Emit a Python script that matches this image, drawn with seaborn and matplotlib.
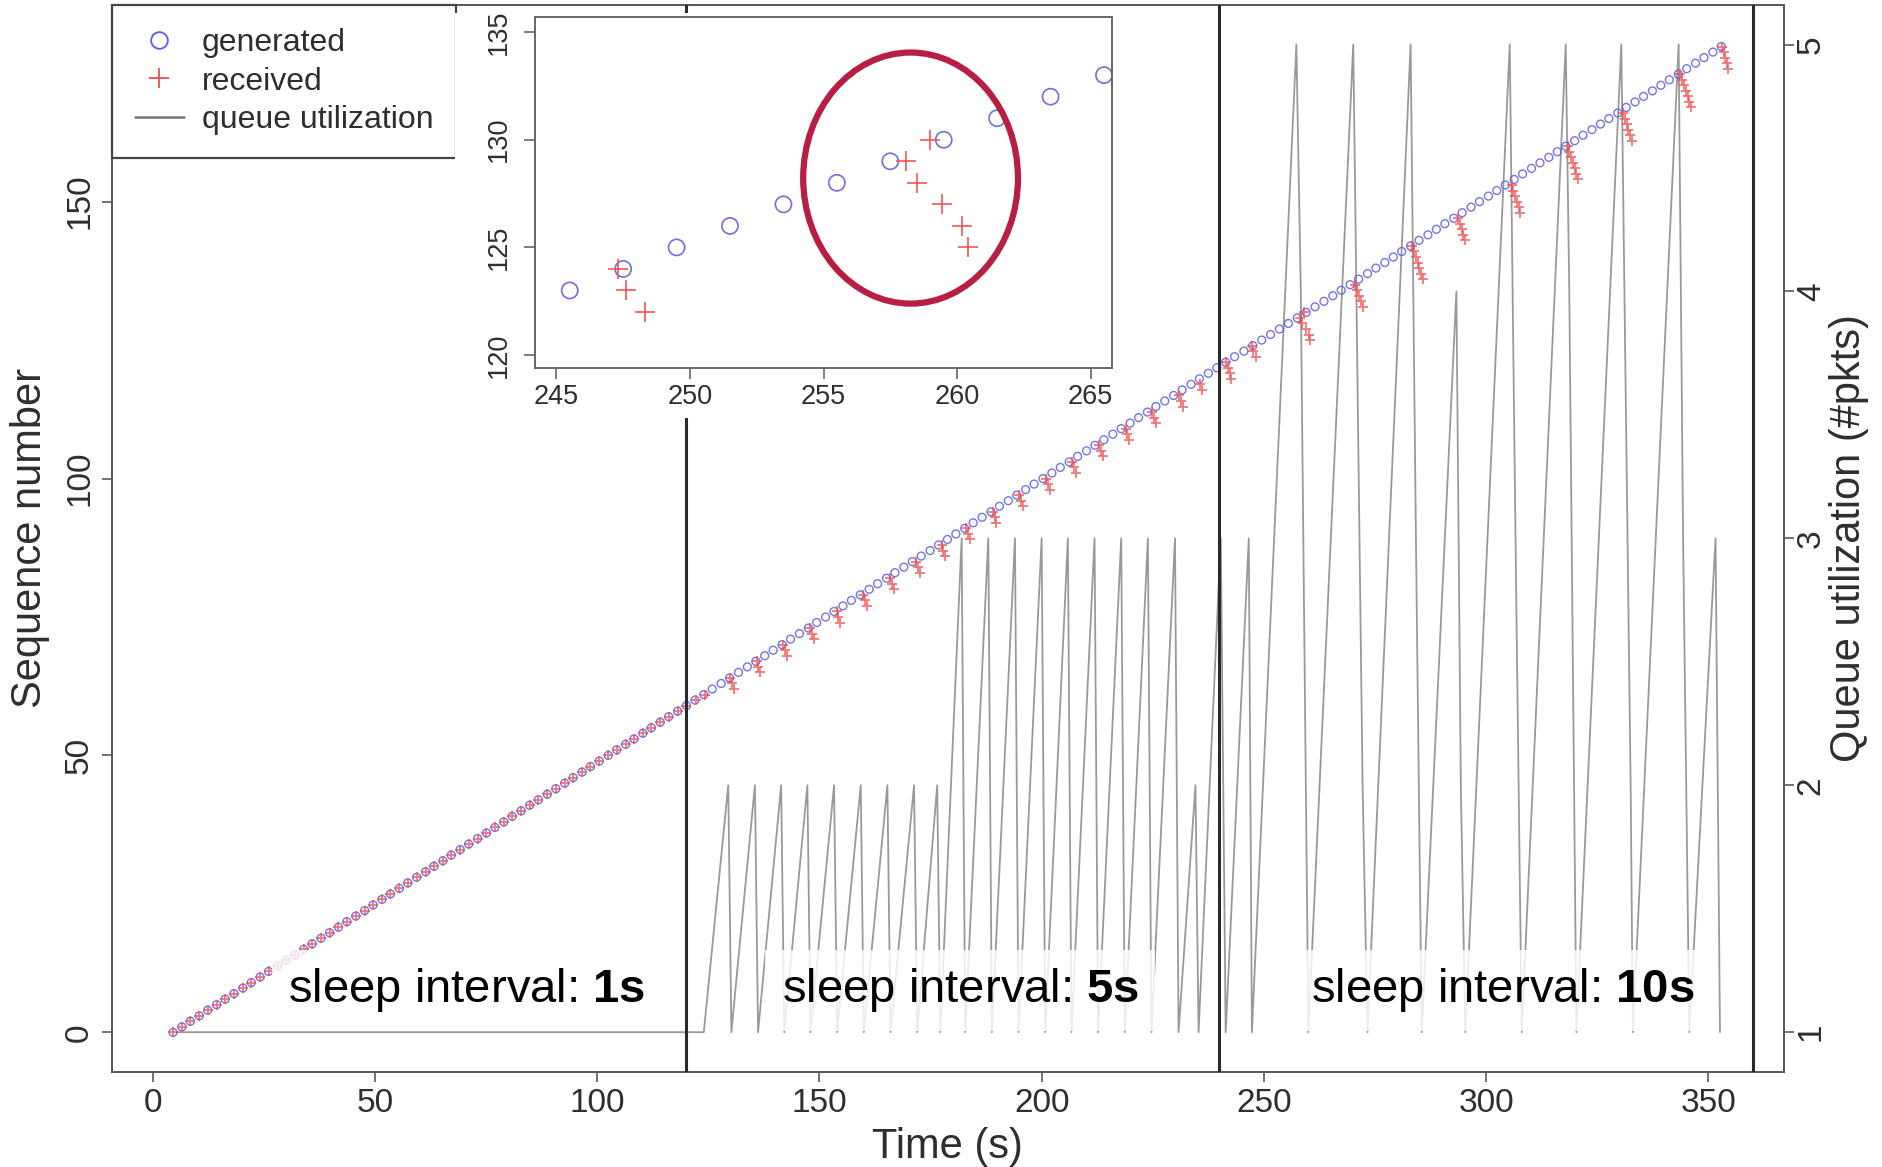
import matplotlib
matplotlib.use("Agg")
import matplotlib.pyplot as plt
import seaborn as sns
from matplotlib.lines import Line2D
from matplotlib.patches import Ellipse, Rectangle

# ---------------- data ----------------
gen_time = [4.6, 6.6, 8.5, 10.5, 12.4, 14.4, 16.3, 18.3, 20.3, 22.2,
            24.2, 26.1, 28.1, 30.0, 32.0, 34.0, 35.9, 37.9, 39.8, 41.8,
            43.7, 45.7, 47.7, 49.6, 51.6, 53.5, 55.5, 57.4, 59.4, 61.4,
            63.3, 65.3, 67.2, 69.2, 71.1, 73.1, 75.1, 77.0, 79.0, 80.9,
            82.9, 84.8, 86.8, 88.8, 90.7, 92.7, 94.6, 96.6, 98.5, 100.5,
            102.5, 104.4, 106.4, 108.3, 110.3, 112.2, 114.2, 116.1, 118.1, 120.1,
            122.0, 124.0, 125.9, 127.9, 129.8, 131.8, 133.8, 135.7, 137.7, 139.6,
            141.6, 143.5, 145.5, 147.5, 149.4, 151.4, 153.3, 155.3, 157.2, 159.2,
            161.2, 163.1, 165.1, 167.0, 169.0, 170.9, 172.9, 174.9, 176.8, 178.8,
            180.7, 182.7, 184.6, 186.6, 188.6, 190.5, 192.5, 194.4, 196.4, 198.3,
            200.3, 202.3, 204.2, 206.2, 208.1, 210.1, 212.0, 214.0, 216.0, 217.9,
            219.9, 221.8, 223.8, 225.7, 227.7, 229.7, 231.6, 233.6, 235.5, 237.5,
            239.4, 241.4, 243.4, 245.5, 247.5, 249.5, 251.5, 253.5, 255.5, 257.5,
            259.5, 261.5, 263.5, 265.5, 267.4, 269.4, 271.3, 273.3, 275.2, 277.2,
            279.1, 281.0, 283.0, 284.9, 286.9, 288.8, 290.7, 292.7, 294.6, 296.6,
            298.5, 300.5, 302.4, 304.3, 306.3, 308.2, 310.2, 312.1, 314.1, 316.0,
            317.9, 319.9, 321.8, 323.8, 325.7, 327.6, 329.6, 331.5, 333.5, 335.4,
            337.4, 339.3, 341.2, 343.2, 345.1, 347.1, 349.0, 351.0, 352.9]
gen_seq = list(range(0, 179))

# during the 1 s phase every packet is received as soon as it is generated
recv_time_1s = gen_time[:60]
recv_seq_1s = gen_seq[:60]

recv_time_late = [122.3, 124.3,
                  129.9, 130.3, 130.7, 135.9, 136.3, 136.7, 141.9, 142.3, 142.7,
                  147.9, 148.3, 148.7, 153.9, 154.3, 154.7, 159.9, 160.3, 160.7,
                  165.9, 166.3, 166.7, 171.8, 172.2, 172.6, 177.5, 177.9, 178.3,
                  183.0, 183.4, 183.8, 189.0, 189.4, 189.8, 195.0, 195.4, 195.8,
                  201.0, 201.4, 201.8, 206.9, 207.3, 207.7, 212.9, 213.3, 213.7,
                  218.9, 219.3, 219.7, 224.9, 225.3, 225.7, 231.0, 231.4, 231.8,
                  235.6, 236.0,
                  241.5, 241.9, 242.3, 242.7,
                  247.3, 247.6, 248.3,
                  258.1, 258.5, 259.0, 259.45, 260.2, 260.4,
                  270.6, 271.0, 271.5, 271.9, 272.4,
                  283.4, 283.8, 284.2, 284.6, 285.0, 285.4, 285.8,
                  293.7, 294.1, 294.5, 294.9, 295.3,
                  305.7, 306.1, 306.5, 306.9, 307.3, 307.7,
                  318.3, 318.7, 319.1, 319.5, 319.9, 320.3, 320.7,
                  330.8, 331.2, 331.6, 332.0, 332.4, 332.8,
                  343.7, 344.1, 344.5, 344.9, 345.3, 345.7, 346.1,
                  353.1, 353.4, 353.8, 354.2, 354.5]
recv_seq_late = [60, 61,
                 64, 63, 62, 67, 66, 65, 70, 69, 68,
                 73, 72, 71, 76, 75, 74, 79, 78, 77,
                 82, 81, 80, 85, 84, 83, 88, 87, 86,
                 91, 90, 89, 94, 93, 92, 97, 96, 95,
                 100, 99, 98, 103, 102, 101, 106, 105, 104,
                 109, 108, 107, 112, 111, 110, 115, 114, 113,
                 117, 116,
                 121, 120, 119, 118,
                 124, 123, 122,
                 129, 128, 130, 127, 126, 125,
                 135, 134, 133, 132, 131,
                 142, 141, 140, 139, 138, 137, 136,
                 147, 146, 145, 144, 143,
                 153, 152, 151, 150, 149, 148,
                 160, 159, 158, 157, 156, 155, 154,
                 166, 165, 164, 163, 162, 161,
                 173, 172, 171, 170, 169, 168, 167,
                 178, 177, 176, 175, 174]

queue_time = [5.5, 124.0, 129.5, 130.2, 135.5, 136.2, 141.4, 142.1, 147.3, 148.0,
              153.3, 154.0, 159.3, 160.0, 165.3, 166.0, 171.3, 172.0, 176.5, 177.2,
              182.0, 182.8, 188.0, 188.8, 194.0, 194.8, 200.0, 200.8, 205.9, 206.7,
              211.9, 212.7, 217.9, 218.7, 223.9, 224.7, 230.0, 230.8,
              234.6, 235.3, 240.3, 241.4, 246.6, 247.3,
              257.3, 258.3, 260.0, 270.1, 272.2, 273.3, 283.0, 284.2, 285.5,
              293.3, 294.3, 295.3, 305.3, 306.6, 308.0, 317.9, 318.7, 320.3,
              330.4, 332.5, 333.0, 343.3, 344.3, 345.7, 351.6, 352.6]
queue_level = [1, 1, 2, 1, 2, 1, 2, 1, 2, 1,
               2, 1, 2, 1, 2, 1, 2, 1, 2, 1,
               3, 1, 3, 1, 3, 1, 3, 1, 3, 1,
               3, 1, 3, 1, 3, 1, 3, 1,
               2, 1, 3, 1, 3, 1,
               5, 4, 1, 5, 2, 1, 5, 3, 1,
               4, 2, 1, 5, 3, 1, 5, 4, 1,
               5, 2, 1, 5, 3, 1, 3, 1]

phase_bounds = [120, 240, 360]
phase_labels = ["1s", "5s", "10s"]
phase_label_x = [70.7, 181.7, 303.7]

x_ticks = [0, 50, 100, 150, 200, 250, 300, 350]
seq_ticks = [0, 50, 100, 150]
queue_ticks = [1, 2, 3, 4, 5]
inset_x_ticks = [245, 250, 255, 260, 265]
inset_y_ticks = [120, 125, 130, 135]
legend_labels = ["generated", "received", "queue utilization"]

# ---------------- style ----------------
sns.set_theme(style="ticks")
plt.rcParams["font.family"] = ["Liberation Sans", "DejaVu Sans"]
plt.rcParams["mathtext.fontset"] = "custom"
plt.rcParams["mathtext.rm"] = "Liberation Sans"
plt.rcParams["mathtext.bf"] = "Liberation Sans:bold"

BLUE = "#5c5ce8"
RED = "#f04a4a"
GREY = "#999999"
SPINE = "#5a5a5a"
TXT = "#2e2e2e"

W, H = 1883, 1167
fig = plt.figure(figsize=(W / 100, H / 100), dpi=100)


def fbox(x0, y0, x1, y1):
    return [x0 / W, 1 - y1 / H, (x1 - x0) / W, (y1 - y0) / H]


ax = fig.add_axes(fbox(111.7, 5, 1784, 1071.7))
ax2 = ax.twinx()
ax.set_zorder(ax2.get_zorder() + 1)
ax.patch.set_visible(False)

# queue utilization (right axis)
sns.lineplot(x=queue_time, y=queue_level, ax=ax2, color=GREY, lw=1.3,
             sort=False, estimator=None)
ax2.set_ylim(0.84, 5.16)

# packets (left axis)
sns.scatterplot(x=gen_time, y=gen_seq, ax=ax, marker="o", s=32,
                color=BLUE, facecolor="none", edgecolor=BLUE, linewidth=1.0,
                alpha=0.85, zorder=3, legend=False)
sns.scatterplot(x=recv_time_1s + recv_time_late, y=recv_seq_1s + recv_seq_late,
                ax=ax, marker="+", s=62, color=RED, linewidth=1.3,
                alpha=0.75, zorder=4, legend=False)

ax.set_xlim(-9.2, 367.0)
ax.set_ylim(-7.1, 185.5)

for b in phase_bounds:
    ax.axvline(b, color="#2a2a2a", lw=2.2, zorder=5)

for xl, lab in zip(phase_label_x, phase_labels):
    ax.text(xl, 7.6, r"sleep interval: $\mathbf{" + lab + "}$", fontsize=34,
            color="black", ha="center", va="center", zorder=6,
            bbox=dict(boxstyle="square,pad=0.35", fc="white", ec="none", alpha=0.82))

ax.set_xticks(x_ticks)
ax.set_yticks(seq_ticks)
ax2.set_yticks(queue_ticks)

ax.tick_params(axis="both", direction="out", length=7, width=1.2, color=SPINE,
               labelsize=24, labelcolor=TXT)
ax.tick_params(axis="x", pad=4.5)
ax.tick_params(axis="y", pad=5, labelrotation=90)
for lbl in ax.get_yticklabels():
    lbl.set_va("center")
ax2.tick_params(axis="y", right=True, direction="out", length=7, width=1.2,
                color=SPINE, labelsize=24, labelcolor=TXT, pad=1.5, labelrotation=90)
for lbl in ax2.get_yticklabels():
    lbl.set_va("center")

for a in (ax, ax2):
    for sp in a.spines.values():
        sp.set_color(SPINE)
        sp.set_linewidth(1.4)
        sp.set_visible(True)

ax.set_xlabel("Time (s)", fontsize=30, color=TXT)
ax.xaxis.set_label_coords(0.5, -0.052)
ax.set_ylabel("Sequence number", fontsize=30, color=TXT)
ax.yaxis.set_label_coords(-0.037, 0.5)
ax2.set_ylabel("Queue utilization (#pkts)", fontsize=30, color=TXT)
ax2.yaxis.set_label_coords(1.027, 0.5)

handles = [Line2D([], [], marker="o", ls="none", mfc="none", mec=BLUE, ms=12, mew=1.3),
           Line2D([], [], marker="+", ls="none", color=RED, ms=15, mew=1.3),
           Line2D([], [], color="#777777", lw=1.8)]
leg = ax.legend(handles, legend_labels, loc="upper left", borderaxespad=0,
                fontsize=23, frameon=True, fancybox=False, edgecolor="#444444",
                framealpha=1, borderpad=0.72, labelspacing=0.27,
                handlelength=1.55, handletextpad=0.55)
leg.get_frame().set_linewidth(1.6)
for t in leg.get_texts():
    t.set_color(TXT)

# ---------------- inset ----------------
fig.add_artist(Rectangle((455 / W, 1 - 418 / H), (1118 - 455) / W, (418 - 13) / H,
                         transform=fig.transFigure, fc="white", ec="none", zorder=2))
axi = fig.add_axes(fbox(535, 17, 1112, 368))
axi.set_zorder(3)
sns.scatterplot(x=gen_time, y=gen_seq, ax=axi, marker="o", s=135,
                color="#6e6ee6", facecolor="none", edgecolor="#6e6ee6",
                linewidth=1.2, legend=False)
sns.scatterplot(x=recv_time_1s + recv_time_late, y=recv_seq_1s + recv_seq_late,
                ax=axi, marker="+", s=190, color="#f05656", linewidth=1.2, legend=False)
axi.set_xlim(244.2, 265.8)
axi.set_ylim(119.4, 135.7)
axi.set_xticks(inset_x_ticks)
axi.set_yticks(inset_y_ticks)
axi.tick_params(axis="both", direction="out", length=8, width=1.1, color=SPINE,
                labelsize=19.5, labelcolor=TXT)
axi.tick_params(axis="x", pad=3.5)
axi.tick_params(axis="y", pad=9, labelrotation=90)
for lbl in axi.get_yticklabels():
    lbl.set_va("center")
for sp in axi.spines.values():
    sp.set_color("#666666")
    sp.set_linewidth(1.4)
    sp.set_visible(True)
axi.set_xlabel("")
axi.set_ylabel("")
axi.add_patch(Ellipse((258.26, 128.22), 8.04, 11.66, fill=False,
                      ec="#b81d42", lw=4.5, zorder=5, clip_on=False))

fig.savefig("out.png", dpi=100)
